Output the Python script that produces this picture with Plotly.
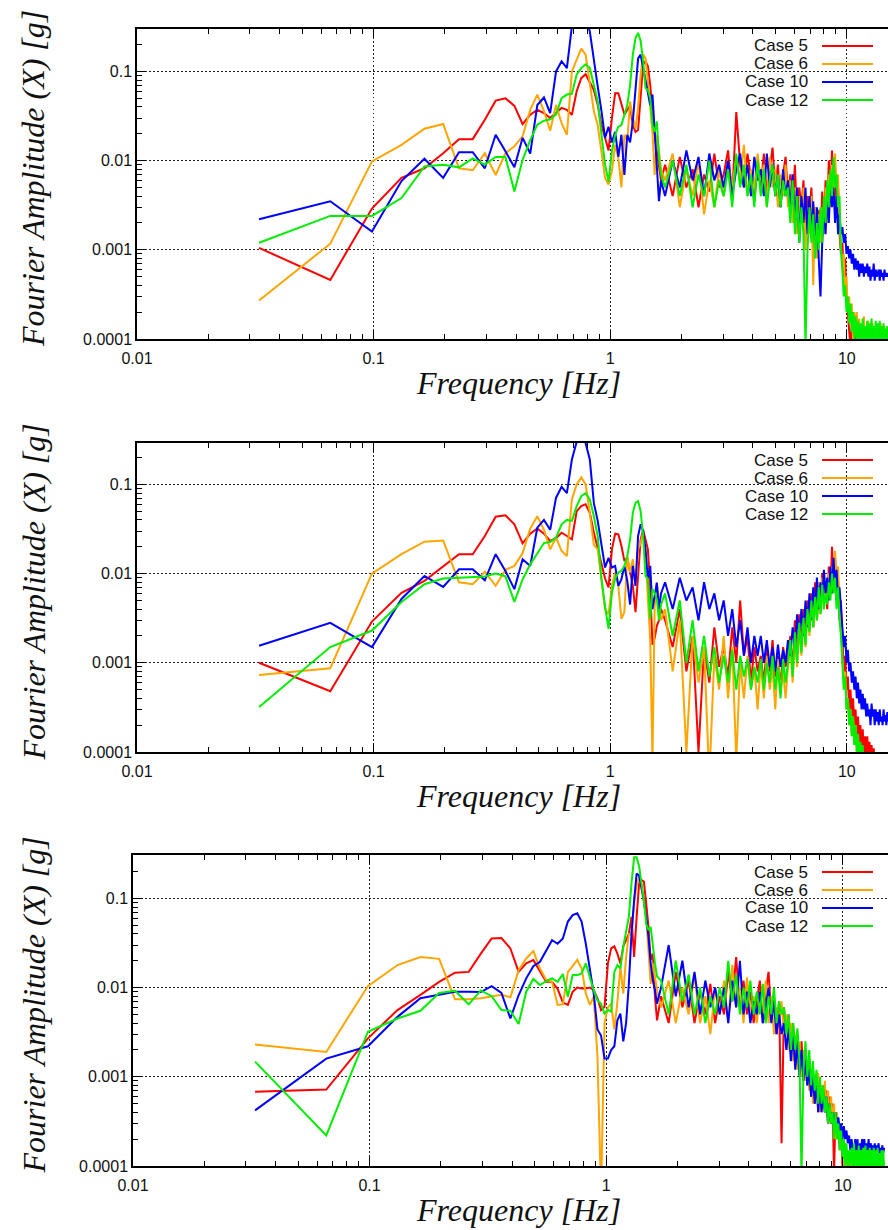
import sys
import plotly.graph_objects as go

W, H = 888, 1230

# ---------------- data ----------------
DF = 0.0328  # frequency resolution [Hz]
K_LOW = list(range(1, 51))
K_HIGH = list(range(52, 457, 4))
FREQ = [k * DF for k in K_LOW + K_HIGH]

CASES = ["Case 5", "Case 6", "Case 10", "Case 12"]
COLORS = ["#ff0000", "#ffa500", "#0000ff", "#00ee00"]

# ---- panel 1 ----
p1_c5_low = [0.00105, 0.00046, 0.0029, 0.0064, 0.0082, 0.0121, 0.0174, 0.0174, 0.0287, 0.047,
             0.050, 0.041, 0.0257, 0.0327, 0.037, 0.034, 0.030, 0.034, 0.039, 0.037,
             0.0327, 0.060, 0.084, 0.093, 0.077, 0.062, 0.042, 0.025, 0.018, 0.013,
             0.030, 0.057, 0.057, 0.042, 0.033, 0.037, 0.041, 0.025, 0.021, 0.022,
             0.060, 0.119, 0.13, 0.114, 0.07, 0.036, 0.019, 0.0127, 0.009, 0.006]
p1_c6_low = [0.00027, 0.00117, 0.0098, 0.015, 0.0228, 0.0257, 0.0082, 0.0078, 0.0121, 0.0069,
             0.0121, 0.0145, 0.0187, 0.037, 0.055, 0.036, 0.0216, 0.042, 0.0263, 0.0195,
             0.1, 0.135, 0.18, 0.154, 0.071, 0.036, 0.025, 0.0117, 0.0064, 0.0054,
             0.0076, 0.015, 0.0107, 0.005, 0.0195, 0.0165, 0.046, 0.030, 0.023, 0.039,
             0.092, 0.154, 0.14, 0.077, 0.039, 0.021, 0.0069, 0.0195, 0.013, 0.008]
p1_c10_low = [0.0022, 0.0035, 0.0016, 0.0059, 0.0105, 0.0064, 0.0124, 0.0124, 0.0082, 0.0195,
              0.0127, 0.0084, 0.018, 0.012, 0.042, 0.051, 0.034, 0.1, 0.13, 0.109,
              0.32, 0.45, 0.5, 0.42, 0.28, 0.13, 0.068, 0.036, 0.018, 0.024,
              0.016, 0.021, 0.011, 0.0195, 0.0069, 0.0195, 0.016, 0.0275, 0.07, 0.14,
              0.154, 0.109, 0.084, 0.06, 0.042, 0.055, 0.021, 0.009, 0.0035, 0.006]
p1_c12_low = [0.0012, 0.0024, 0.0024, 0.0038, 0.0086, 0.009, 0.0084, 0.0106, 0.009, 0.011,
              0.011, 0.0045, 0.0102, 0.017, 0.0253, 0.028, 0.029, 0.033, 0.05, 0.055,
              0.056, 0.092, 0.109, 0.12, 0.109, 0.07, 0.046, 0.0195, 0.009, 0.0058,
              0.0127, 0.0195, 0.024, 0.025, 0.033, 0.042, 0.07, 0.154, 0.236, 0.27,
              0.22, 0.13, 0.065, 0.062, 0.05, 0.025, 0.021, 0.0275, 0.011, 0.007]

p1_c5_high = [0.009, 0.004, 0.011, 0.005, 0.008, 0.003, 0.007, 0.0045, 0.012, 0.005,
              0.007, 0.013, 0.004, 0.035, 0.009, 0.005, 0.012, 0.006, 0.0035, 0.009,
              0.005, 0.012, 0.004, 0.008, 0.014, 0.005, 0.009, 0.003, 0.007, 0.011,
              0.004, 0.007, 0.003, 0.009, 0.002, 0.005, 0.003, 0.006, 0.0015, 0.004,
              0.0025, 0.005, 0.0015, 0.003, 0.001, 0.0028, 0.0012, 0.0045, 0.002, 0.006,
              0.003, 0.01, 0.004, 0.013, 0.005, 0.008, 0.003, 0.005, 0.0015, 0.0009,
              0.0012, 0.0005, 0.0008, 0.0003, 0.0002, 0.00012, 0.00008, 0.00015, 0.00006, 0.00012,
              0.00008, 0.00014, 0.00005, 0.0001, 0.00007, 0.00012, 0.00005, 0.00009, 0.00007, 0.00011,
              0.00006, 0.0001, 0.00005, 0.00009, 0.00006, 0.0001, 0.00005, 0.00008, 0.00006, 0.00009,
              0.00005, 0.00008, 0.00006, 0.0001, 0.00005, 0.00008, 0.00006, 0.00009, 0.00005, 0.00008,
              0.00006, 0.00008]
p1_c6_high = [0.006, 0.012, 0.003, 0.008, 0.004, 0.010, 0.0025, 0.006, 0.003, 0.008,
              0.004, 0.009, 0.005, 0.011, 0.006, 0.015, 0.004, 0.008, 0.005, 0.012,
              0.006, 0.009, 0.003, 0.011, 0.005, 0.008, 0.003, 0.007, 0.004, 0.009,
              0.003, 0.006, 0.002, 0.005, 0.0015, 0.004, 0.002, 0.005, 0.001, 0.003,
              0.0015, 0.004, 0.0004, 0.003, 0.0008, 0.0025, 0.0012, 0.003, 0.0015, 0.005,
              0.002, 0.007, 0.003, 0.009, 0.004, 0.012, 0.005, 0.007, 0.002, 0.0012,
              0.0006, 0.0009, 0.0003, 0.0005, 0.0002, 0.0003, 0.00015, 0.00025, 0.0001, 0.0002,
              0.00012, 0.0002, 0.0001, 0.00017, 0.00009, 0.00015, 0.0001, 0.00018, 0.00008, 0.00014,
              0.0001, 0.00016, 0.00008, 0.00013, 0.0001, 0.00015, 0.00007, 0.00012, 0.0001, 0.00014,
              0.00009, 0.00013, 0.0001, 0.00015, 0.00008, 0.00012, 0.0001, 0.00014, 0.00009, 0.00012,
              0.0001, 0.00013]
p1_c10_high = [0.004, 0.010, 0.005, 0.013, 0.006, 0.011, 0.004, 0.012, 0.006, 0.009,
               0.005, 0.010, 0.004, 0.008, 0.012, 0.005, 0.009, 0.004, 0.011, 0.006,
               0.008, 0.004, 0.012, 0.005, 0.009, 0.004, 0.007, 0.003, 0.008, 0.004,
               0.006, 0.003, 0.007, 0.002, 0.005, 0.0012, 0.004, 0.002, 0.005, 0.0015,
               0.004, 0.0015, 0.0035, 0.001, 0.003, 0.0008, 0.0003, 0.0012, 0.003, 0.0015,
               0.004, 0.002, 0.006, 0.003, 0.005, 0.002, 0.004, 0.0015, 0.0025, 0.0015,
               0.0018, 0.0012, 0.0015, 0.0009, 0.0011, 0.0008, 0.001, 0.0007, 0.0009, 0.0006,
               0.0008, 0.0006, 0.00075, 0.0005, 0.0007, 0.00055, 0.0007, 0.0005, 0.00065, 0.00055,
               0.0007, 0.0005, 0.00065, 0.00045, 0.0006, 0.0005, 0.0007, 0.00045, 0.0006, 0.0005,
               0.00055, 0.0006, 0.00045, 0.0006, 0.0005, 0.00055, 0.00045, 0.0006, 0.0005, 0.00055,
               0.0005, 0.00055]
p1_c12_high = [0.005, 0.010, 0.004, 0.009, 0.003, 0.007, 0.004, 0.010, 0.003, 0.006,
               0.004, 0.008, 0.003, 0.012, 0.005, 0.009, 0.004, 0.007, 0.003, 0.010,
               0.004, 0.008, 0.003, 0.006, 0.009, 0.004, 0.007, 0.003, 0.006, 0.004,
               0.005, 0.002, 0.006, 0.0015, 0.004, 0.0012, 0.003, 0.0015, 0.00008, 0.001,
               0.003, 0.0012, 0.0025, 0.0008, 0.002, 0.001, 0.003, 0.0012, 0.004, 0.002,
               0.006, 0.003, 0.008, 0.004, 0.011, 0.005, 0.007, 0.003, 0.004, 0.001,
               0.0006, 0.0003, 0.0004, 0.0002, 0.0003, 0.00015, 0.00025, 0.00012, 0.0002, 0.0001,
               0.00018, 0.0001, 0.00016, 0.00008, 0.00015, 0.0001, 0.00017, 0.00007, 0.00014, 0.0001,
               0.00016, 0.00008, 0.00015, 0.0001, 0.00017, 0.00008, 0.00014, 0.0001, 0.00016, 0.00009,
               0.00015, 0.0001, 0.00016, 0.00008, 0.00014, 0.0001, 0.00015, 0.00009, 0.00013, 0.0001,
               0.00014, 0.0001]

# ---- panel 2 ----
p2_c5_low = [0.001, 0.00048, 0.0029, 0.0061, 0.0083, 0.0122, 0.0165, 0.0165, 0.0264, 0.0435,
             0.045, 0.0357, 0.0218, 0.028, 0.032, 0.028, 0.0232, 0.025, 0.0287, 0.0264,
             0.0242, 0.05, 0.057, 0.06, 0.048, 0.029, 0.0187, 0.0122, 0.0088, 0.007,
             0.0187, 0.028, 0.0276, 0.0205, 0.0139, 0.015, 0.0103, 0.0073, 0.0037, 0.0088,
             0.024, 0.031, 0.024, 0.0187, 0.0067, 0.0016, 0.0019, 0.0026, 0.003, 0.004]
p2_c6_low = [0.00073, 0.00087, 0.01, 0.0165, 0.0228, 0.0235, 0.008, 0.0076, 0.0105, 0.0073,
             0.011, 0.0122, 0.017, 0.032, 0.044, 0.031, 0.0187, 0.0253, 0.018, 0.0157,
             0.068, 0.1, 0.12, 0.1, 0.048, 0.021, 0.0187, 0.0088, 0.004, 0.0035,
             0.0073, 0.0103, 0.0073, 0.0031, 0.0037, 0.0157, 0.0103, 0.0145, 0.0073, 0.0187,
             0.022, 0.029, 0.017, 0.0052, 0.0018, 0.00008, 0.0043, 0.008, 0.005, 0.003]
p2_c10_low = [0.00155, 0.0028, 0.0015, 0.0052, 0.0094, 0.0071, 0.0112, 0.0112, 0.0084, 0.0165,
              0.0107, 0.0067, 0.0145, 0.0122, 0.0327, 0.04, 0.031, 0.071, 0.094, 0.08,
              0.19, 0.3, 0.4, 0.29, 0.19, 0.062, 0.039, 0.0205, 0.0117, 0.015,
              0.0117, 0.0122, 0.0073, 0.0086, 0.0122, 0.0083, 0.0045, 0.0122, 0.0073, 0.0264,
              0.0357, 0.03, 0.0187, 0.0086, 0.0122, 0.004, 0.0056, 0.0079, 0.004, 0.006]
p2_c12_low = [0.00032, 0.0015, 0.0023, 0.0048, 0.0076, 0.0088, 0.009, 0.0092, 0.0093, 0.01,
              0.0093, 0.0048, 0.0086, 0.0127, 0.017, 0.022, 0.0226, 0.0253, 0.0357, 0.04,
              0.039, 0.057, 0.074, 0.08, 0.068, 0.044, 0.0264, 0.0088, 0.0043, 0.0024,
              0.0061, 0.0088, 0.0103, 0.0107, 0.0122, 0.0157, 0.0242, 0.048, 0.062, 0.065,
              0.05, 0.0264, 0.0094, 0.0088, 0.0031, 0.0067, 0.0061, 0.0052, 0.003, 0.0045]

p2_c5_high = [0.003, 0.0015, 0.004, 0.0008, 0.002, 0.0001, 0.0015, 0.0006, 0.0025, 0.0009,
              0.0015, 0.0007, 0.0025, 0.001, 0.005, 0.0012, 0.002, 0.0006, 0.0015, 0.0008,
              0.0012, 0.0006, 0.0015, 0.0008, 0.0018, 0.0007, 0.0012, 0.0005, 0.0015, 0.0009,
              0.0012, 0.002, 0.0008, 0.003, 0.0012, 0.0035, 0.0015, 0.004, 0.002, 0.005,
              0.003, 0.006, 0.0025, 0.008, 0.003, 0.007, 0.004, 0.01, 0.005, 0.008,
              0.004, 0.012, 0.006, 0.02, 0.008, 0.015, 0.005, 0.009, 0.003, 0.005,
              0.002, 0.0008, 0.0012, 0.0005, 0.0007, 0.0003, 0.0005, 0.00025, 0.0004, 0.0002,
              0.0003, 0.00015, 0.00025, 0.00012, 0.0002, 0.0001, 0.00018, 0.00009, 0.00015, 0.0001,
              0.00015, 0.00009, 0.00013, 0.00008, 0.00012, 0.00007, 0.00011, 0.00008, 0.0001, 0.00007,
              0.0001, 0.00007, 0.00009, 0.00006, 0.0001, 0.00007, 0.00009, 0.00006, 0.00008, 0.00006,
              0.00008, 0.00006]
p2_c6_high = [0.004, 0.0008, 0.003, 0.0001, 0.002, 0.0006, 0.0015, 0.00005, 0.0012, 0.0005,
              0.002, 0.0004, 0.0015, 0.00008, 0.001, 0.0004, 0.0012, 0.0005, 0.0009, 0.0003,
              0.001, 0.0004, 0.0012, 0.0005, 0.0009, 0.0003, 0.0011, 0.0005, 0.0008, 0.0004,
              0.0009, 0.0015, 0.0006, 0.002, 0.0009, 0.0025, 0.0012, 0.003, 0.0015, 0.004,
              0.002, 0.005, 0.0025, 0.006, 0.003, 0.008, 0.0035, 0.009, 0.004, 0.007,
              0.005, 0.01, 0.006, 0.012, 0.007, 0.018, 0.008, 0.012, 0.004, 0.0025,
              0.0012, 0.0006, 0.0008, 0.0003, 0.0004, 0.0002, 0.0003, 0.00015, 0.00025, 0.00012,
              0.0002, 0.0001, 0.00015, 0.00008, 0.00012, 0.00007, 0.0001, 0.00006, 0.0001, 0.00007,
              0.0001, 0.00006, 0.00009, 0.00005, 0.00008, 0.00006, 0.00009, 0.00005, 0.00008, 0.00006,
              0.00009, 0.00005, 0.00008, 0.00006, 0.00009, 0.00005, 0.00008, 0.00006, 0.00007, 0.00005,
              0.00007, 0.00005]
p2_c10_high = [0.008, 0.004, 0.009, 0.005, 0.007, 0.003, 0.008, 0.004, 0.006, 0.003,
               0.005, 0.002, 0.004, 0.0015, 0.003, 0.0012, 0.0025, 0.001, 0.002, 0.0012,
               0.002, 0.001, 0.0018, 0.0009, 0.0015, 0.0008, 0.0016, 0.0009, 0.0014, 0.001,
               0.0018, 0.0012, 0.0025, 0.0015, 0.0035, 0.0018, 0.004, 0.002, 0.005, 0.0025,
               0.006, 0.003, 0.007, 0.004, 0.009, 0.004, 0.008, 0.005, 0.011, 0.006,
               0.009, 0.005, 0.012, 0.006, 0.015, 0.007, 0.011, 0.005, 0.007, 0.004,
               0.003, 0.0015, 0.002, 0.001, 0.0014, 0.0008, 0.001, 0.0006, 0.0008, 0.0005,
               0.0007, 0.0004, 0.0006, 0.00035, 0.0005, 0.0003, 0.00045, 0.0003, 0.0004, 0.00025,
               0.00035, 0.00025, 0.0003, 0.0002, 0.00035, 0.00025, 0.0003, 0.0002, 0.0003, 0.00022,
               0.00028, 0.0002, 0.0003, 0.00022, 0.00025, 0.0002, 0.0003, 0.00022, 0.00026, 0.0002,
               0.00028, 0.00022]
p2_c12_high = [0.006, 0.002, 0.005, 0.001, 0.003, 0.0008, 0.002, 0.0007, 0.0015, 0.0006,
               0.0012, 0.0006, 0.0014, 0.0005, 0.0012, 0.0007, 0.0011, 0.0005, 0.0009, 0.0006,
               0.0011, 0.0005, 0.001, 0.0006, 0.0012, 0.0005, 0.0009, 0.0004, 0.0011, 0.0006,
               0.001, 0.0018, 0.0007, 0.0022, 0.001, 0.0028, 0.0013, 0.0032, 0.0016, 0.004,
               0.0022, 0.005, 0.0025, 0.0055, 0.003, 0.007, 0.0035, 0.0075, 0.004, 0.006,
               0.0045, 0.008, 0.005, 0.01, 0.006, 0.009, 0.004, 0.007, 0.003, 0.002,
               0.001, 0.0005, 0.0007, 0.0003, 0.0004, 0.0002, 0.0003, 0.00015, 0.00025, 0.00012,
               0.0002, 0.0001, 0.00016, 0.00008, 0.00013, 0.00007, 0.00012, 0.00006, 0.0001, 0.00007,
               0.0001, 0.00006, 0.00009, 0.00005, 0.00009, 0.00006, 0.0001, 0.00005, 0.00008, 0.00006,
               0.00009, 0.00005, 0.00008, 0.00006, 0.00009, 0.00005, 0.00008, 0.00006, 0.00007, 0.00005,
               0.00008, 0.00005]

# ---- panel 3 ----
p3_c5_low = [0.00068, 0.00072, 0.0027, 0.0056, 0.0083, 0.0116, 0.0147, 0.015, 0.024, 0.0355,
             0.036, 0.0275, 0.015, 0.0187, 0.0204, 0.015, 0.0116, 0.0116, 0.0097, 0.0068,
             0.0064, 0.009, 0.01, 0.0098, 0.0098, 0.01, 0.0094, 0.0076, 0.0056, 0.0061,
             0.0187, 0.0275, 0.029, 0.024, 0.0187, 0.029, 0.034, 0.04, 0.062, 0.022,
             0.062, 0.147, 0.16, 0.154, 0.088, 0.048, 0.0204, 0.024, 0.0079, 0.0043]
p3_c6_low = [0.0023, 0.0019, 0.0104, 0.0179, 0.022, 0.021, 0.0074, 0.0074, 0.0076, 0.0079,
             0.0083, 0.0078, 0.0157, 0.0212, 0.0257, 0.0164, 0.0122, 0.0116, 0.0064, 0.0065,
             0.015, 0.0174, 0.0204, 0.0164, 0.0086, 0.0064, 0.0079, 0.0017, 0.00005, 0.004,
             0.006, 0.0066, 0.0034, 0.0069, 0.017, 0.0086, 0.022, 0.04, 0.04, 0.088,
             0.14, 0.175, 0.13, 0.088, 0.062, 0.026, 0.011, 0.0187, 0.0133, 0.0094]
p3_c10_low = [0.00042, 0.0016, 0.0022, 0.0047, 0.0076, 0.0084, 0.009, 0.009, 0.0089, 0.0104,
              0.0087, 0.0045, 0.0082, 0.0127, 0.0174, 0.0195, 0.0264, 0.034, 0.031, 0.0355,
              0.055, 0.065, 0.068, 0.055, 0.031, 0.017, 0.0086, 0.0034, 0.0029, 0.0016,
              0.0016, 0.002, 0.0022, 0.0043, 0.0051, 0.0025, 0.004, 0.011, 0.04, 0.095,
              0.19, 0.18, 0.135, 0.095, 0.062, 0.037, 0.0187, 0.012, 0.0094, 0.0066]
p3_c12_low = [0.00148, 0.00022, 0.0032, 0.0045, 0.0055, 0.0087, 0.0092, 0.0065, 0.0093, 0.008,
              0.0056, 0.0055, 0.0039, 0.009, 0.0125, 0.0107, 0.0118, 0.0127, 0.0116, 0.0142,
              0.0079, 0.0138, 0.0138, 0.0144, 0.0187, 0.0127, 0.0093, 0.0072, 0.0066, 0.0051,
              0.0056, 0.0054, 0.015, 0.0179, 0.0164, 0.0287, 0.042, 0.062, 0.147, 0.29,
              0.29, 0.23, 0.147, 0.095, 0.052, 0.044, 0.048, 0.0287, 0.0187, 0.0133]

p3_c5_high = [0.008, 0.004, 0.015, 0.006, 0.012, 0.004, 0.009, 0.005, 0.011, 0.004,
              0.008, 0.005, 0.015, 0.007, 0.022, 0.006, 0.012, 0.005, 0.009, 0.004,
              0.007, 0.012, 0.004, 0.009, 0.015, 0.005, 0.008, 0.003, 0.007, 0.00018,
              0.006, 0.003, 0.005, 0.002, 0.004, 0.0015, 0.003, 0.0012, 0.0025, 0.001,
              0.002, 0.0008, 0.0015, 0.0006, 0.0012, 0.0005, 0.001, 0.0004, 0.0009, 0.0005,
              0.0008, 0.0004, 0.0007, 0.0003, 0.0006, 0.0003, 0.0005, 0.00008, 0.0004, 0.0002,
              0.0003, 0.00015, 0.00025, 0.0001, 0.0002, 0.00008, 0.00015, 0.00007, 0.00012, 0.00006,
              0.0001, 0.00006, 0.00009, 0.00005, 0.00008, 0.00005, 0.00007, 0.00004, 0.00006, 0.00005,
              0.00007, 0.00005, 0.00008, 0.00004, 0.00007, 0.00005, 0.00008, 0.00004, 0.00006, 0.00005,
              0.00007, 0.00004, 0.00006, 0.00005, 0.00007, 0.00004, 0.00006, 0.00005, 0.00006, 0.00004,
              0.00006, 0.00005]
p3_c6_high = [0.006, 0.012, 0.004, 0.010, 0.005, 0.014, 0.004, 0.008, 0.003, 0.010,
              0.005, 0.012, 0.004, 0.018, 0.006, 0.010, 0.004, 0.013, 0.005, 0.008,
              0.004, 0.009, 0.005, 0.012, 0.004, 0.008, 0.003, 0.006, 0.004, 0.007,
              0.003, 0.005, 0.002, 0.004, 0.0015, 0.003, 0.0012, 0.0025, 0.001, 0.002,
              0.0009, 0.0015, 0.0007, 0.0012, 0.0005, 0.001, 0.0006, 0.0011, 0.0004, 0.0008,
              0.0005, 0.0009, 0.0004, 0.0007, 0.0003, 0.0006, 0.0003, 0.0005, 0.0002, 0.0004,
              0.0002, 0.0003, 0.00015, 0.0002, 0.0001, 0.00018, 0.00009, 0.00015, 0.00008, 0.00012,
              0.0001, 0.00014, 0.00008, 0.00012, 0.00009, 0.00013, 0.00007, 0.00011, 0.00009, 0.00012,
              0.00008, 0.00012, 0.00009, 0.00013, 0.00007, 0.00011, 0.00009, 0.00012, 0.00008, 0.00011,
              0.00009, 0.00012, 0.00008, 0.00011, 0.00009, 0.00012, 0.00007, 0.00011, 0.00009, 0.00012,
              0.00008, 0.00011]
p3_c10_high = [0.01, 0.03, 0.008, 0.02, 0.006, 0.015, 0.005, 0.012, 0.006, 0.01,
               0.005, 0.01, 0.004, 0.012, 0.006, 0.02, 0.005, 0.009, 0.004, 0.007,
               0.005, 0.009, 0.004, 0.006, 0.01, 0.004, 0.007, 0.003, 0.005, 0.003,
               0.004, 0.002, 0.0035, 0.0015, 0.003, 0.0012, 0.0025, 0.001, 0.002, 0.0009,
               0.0015, 0.0008, 0.0012, 0.0006, 0.001, 0.0005, 0.0009, 0.0004, 0.0008, 0.0004,
               0.0007, 0.0004, 0.0006, 0.0003, 0.0005, 0.0003, 0.0004, 0.00025, 0.0004, 0.0003,
               0.00035, 0.00025, 0.0003, 0.0002, 0.00028, 0.0002, 0.00025, 0.00018, 0.00022, 0.00015,
               0.0002, 0.00015, 0.00008, 0.0002, 0.00015, 0.0002, 0.00006, 0.00018, 0.00015, 0.0002,
               0.00015, 0.0002, 0.00012, 0.00018, 0.00015, 0.0002, 0.00013, 0.00018, 0.00015, 0.00017,
               0.00014, 0.00018, 0.00013, 0.00017, 0.00015, 0.00018, 0.00013, 0.00016, 0.00014, 0.00017,
               0.00014, 0.00016]
p3_c12_high = [0.012, 0.005, 0.02, 0.007, 0.014, 0.005, 0.01, 0.004, 0.008, 0.005,
               0.01, 0.006, 0.02, 0.007, 0.014, 0.005, 0.01, 0.006, 0.012, 0.005,
               0.009, 0.005, 0.011, 0.004, 0.008, 0.005, 0.01, 0.004, 0.007, 0.005,
               0.006, 0.003, 0.005, 0.002, 0.004, 0.002, 0.0035, 0.0015, 0.00008, 0.0012,
               0.0025, 0.001, 0.002, 0.0008, 0.0015, 0.0007, 0.0012, 0.0005, 0.001, 0.0005,
               0.0008, 0.0004, 0.0006, 0.0003, 0.0005, 0.0003, 0.0004, 0.0002, 0.0004, 0.0002,
               0.0003, 0.00015, 0.00025, 0.00012, 0.0002, 0.0001, 0.00018, 0.0001, 0.00015, 0.0001,
               0.00016, 0.0001, 0.00018, 0.00009, 0.00015, 0.0001, 0.00017, 0.00008, 0.00015, 0.0001,
               0.00016, 0.00009, 0.00017, 0.0001, 0.00015, 0.00008, 0.00016, 0.0001, 0.00015, 0.00009,
               0.00016, 0.0001, 0.00015, 0.00008, 0.00016, 0.0001, 0.00014, 0.00009, 0.00015, 0.0001,
               0.00015, 0.00009]

PANELS = [
    [p1_c5_low + p1_c5_high, p1_c6_low + p1_c6_high, p1_c10_low + p1_c10_high, p1_c12_low + p1_c12_high],
    [p2_c5_low + p2_c5_high, p2_c6_low + p2_c6_high, p2_c10_low + p2_c10_high, p2_c12_low + p2_c12_high],
    [p3_c5_low + p3_c5_high, p3_c6_low + p3_c6_high, p3_c10_low + p3_c10_high, p3_c12_low + p3_c12_high],
]

X_TICKS = [0.01, 0.1, 1, 10]
X_TICKTEXT = ["0.01", "0.1", "1", "10"]
Y_TICKS = [0.0001, 0.001, 0.01, 0.1]
Y_TICKTEXT = ["0.0001", "0.001", "0.01", "0.1"]
X_MINOR = [m * d for d in (0.01, 0.1, 1, 10) for m in range(2, 10)]
Y_MINOR = [m * d for d in (0.0001, 0.001, 0.01, 0.1) for m in range(2, 10)]

# ---------------- layout geometry (pixels) ----------------
GEOM = [(137, 29, 339), (137, 443, 752), (133, 855, 1166)]
PX_PER_DEC_X = 236.6
PX_PER_DEC_Y = 89.2


def px(x):
    return x / W


def py(y):
    return 1 - y / H


fig = go.Figure()
layout = dict(
    template="none",
    width=W, height=H,
    margin=dict(l=0, r=0, t=0, b=0, pad=0, autoexpand=False),
    paper_bgcolor="white", plot_bgcolor="white",
    showlegend=False,
    annotations=[], shapes=[],
)

TICKFONT = dict(family="Liberation Sans, Arial, sans-serif", size=16, color="#111111")
TITLEFONT = dict(family="Liberation Serif, Times New Roman, serif", size=32, color="#111111")
LEGFONT = dict(family="Liberation Sans, Arial, sans-serif", size=17, color="#111111")
GRID = dict(showgrid=True, gridcolor="#222222", gridwidth=1, griddash="1.5px,2.5px")

for i, (series, (left, top, bottom)) in enumerate(zip(PANELS, GEOM)):
    n = i + 1
    xa = "x" if n == 1 else f"x{n}"
    ya = "y" if n == 1 else f"y{n}"
    xkey = "xaxis" if n == 1 else f"xaxis{n}"
    ykey = "yaxis" if n == 1 else f"yaxis{n}"
    xr = [-2, -2 + (W - left) / PX_PER_DEC_X]
    yr = [-4, -4 + (bottom - top) / PX_PER_DEC_Y]

    layout[xkey] = dict(
        type="log", range=xr, domain=[px(left), 1.0], anchor=ya, automargin=False,
        showline=True, linecolor="black", linewidth=1.5, mirror="ticks",
        ticks="inside", ticklen=9, tickwidth=1, tickcolor="black",
        tickvals=X_TICKS, ticktext=X_TICKTEXT, tickfont=TICKFONT, ticklabelstandoff=4,
        minor=dict(tickvals=X_MINOR, ticks="inside", ticklen=5, tickcolor="black", showgrid=False),
        zeroline=False, fixedrange=True, **GRID,
    )
    layout[ykey] = dict(
        type="log", range=yr, domain=[py(bottom), py(top)], anchor=xa, automargin=False,
        showline=True, linecolor="black", linewidth=1.5, mirror=False,
        ticks="inside", ticklen=9, tickwidth=1, tickcolor="black",
        tickvals=Y_TICKS, ticktext=Y_TICKTEXT, tickfont=TICKFONT,
        minor=dict(tickvals=Y_MINOR, ticks="inside", ticklen=5, tickcolor="black", showgrid=False),
        zeroline=False, fixedrange=True, **GRID,
    )

    for name, color, vals in zip(CASES, COLORS, series):
        m = min(len(FREQ), len(vals))
        if m != len(FREQ):
            print(f"warning: {name} panel {n} has {len(vals)} values", file=sys.stderr)
        fig.add_trace(go.Scatter(
            x=FREQ[:m], y=vals[:m], mode="lines", name=name,
            line=dict(color=color, width=2), xaxis=xa, yaxis=ya,
            cliponaxis=True, hoverinfo="skip",
        ))

    # opaque key area (covers grid only)
    layout["shapes"].append(dict(
        type="rect", xref="paper", yref="paper", layer="between",
        x0=px(733), x1=1.0, y0=py(top + 79), y1=py(top + 1),
        fillcolor="white", line=dict(width=0),
    ))
    for j, (name, color) in enumerate(zip(CASES, COLORS)):
        yy = top + 17 + 18 * j
        layout["annotations"].append(dict(
            text=name, xref="paper", yref="paper", x=px(810), y=py(yy),
            xanchor="right", yanchor="middle", showarrow=False, font=LEGFONT,
        ))
        layout["shapes"].append(dict(
            type="line", xref="paper", yref="paper", layer="above",
            x0=px(822), x1=px(873), y0=py(yy), y1=py(yy),
            line=dict(color=color, width=2),
        ))

    layout["annotations"].append(dict(
        text="<i>Frequency [Hz]</i>", xref="paper", yref="paper",
        x=px(518), y=py(bottom + 44), xanchor="center", yanchor="middle",
        showarrow=False, font=TITLEFONT,
    ))
    layout["annotations"].append(dict(
        text="<i>Fourier Amplitude (X) [g]</i>", xref="paper", yref="paper",
        x=px(33), y=py((top + bottom) / 2 - 5), xanchor="center", yanchor="middle",
        textangle=-90, showarrow=False, font=TITLEFONT,
    ))

fig.update_layout(**layout)
fig.write_html("out.html")
